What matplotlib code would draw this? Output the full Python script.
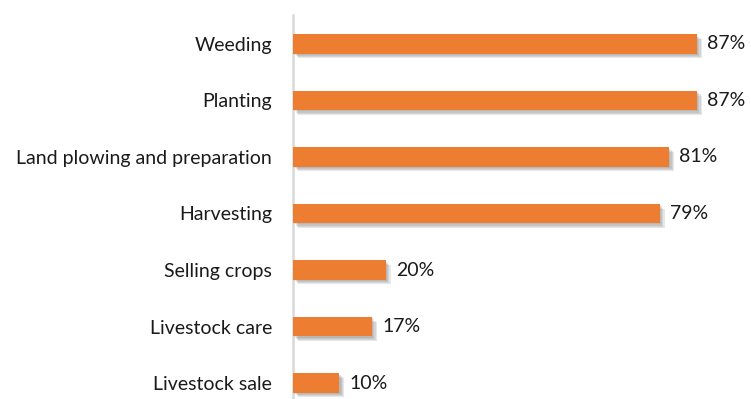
import matplotlib.pyplot as plt
import matplotlib.patheffects as pe

# data
tasks = ["Weeding", "Planting", "Land plowing and preparation", "Harvesting",
         "Selling crops", "Livestock care", "Livestock sale"]
shares = [87, 87, 81, 79, 20, 17, 10]

plt.rcParams['font.family'] = ['Lato', 'DejaVu Sans']

fig = plt.figure(figsize=(7.51, 3.99), dpi=100)
ax = fig.add_axes([293 / 751, 0, 455 / 751, 1 - 15 / 399])

ypos = list(range(len(tasks)))
bars = ax.barh(ypos, shares, height=0.34, color='#ed7d31', zorder=3)
# soft drop shadow: a few stacked offsets
shadow = [pe.SimplePatchShadow(offset=(d, -d), shadow_rgbFace='#7f7f7f', alpha=0.18)
          for d in (1.0, 1.8, 2.6, 3.4)]
for b in bars:
    b.set_path_effects(shadow + [pe.Normal()])

for y, v in zip(ypos, shares):
    ax.text(v + 2.2, y, f"{v}%", va='center', ha='left', fontsize=14, color='#1a1a1a')

ax.set_xlim(0, 98)
ax.set_ylim(6.283, -0.513)
ax.set_yticks(ypos)
ax.set_yticklabels(tasks, fontsize=14, color='#1a1a1a')
ax.tick_params(axis='y', length=0, pad=15)
ax.set_xticks([])

for s in ['top', 'right', 'bottom']:
    ax.spines[s].set_visible(False)
ax.spines['left'].set_color('#d9d9d9')
ax.spines['left'].set_linewidth(1.8)

fig.savefig('out.png', dpi=100)
